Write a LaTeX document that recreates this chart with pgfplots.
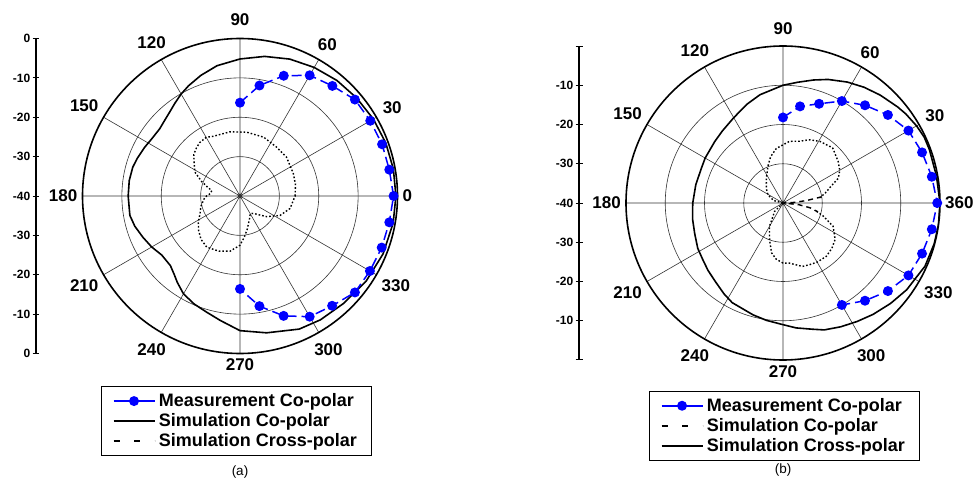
\documentclass[border=0pt]{standalone}
\usepackage{fontspec}
\setmainfont{Liberation Sans}
\usepackage{pgfplots}
\usepgfplotslibrary{polar}
\pgfplotsset{compat=1.18}
\usepackage{pgfplotstable}

% ---------- Panel (a) ----------
\pgfplotstableread{
a db
90 -16.3
80 -11.5
70 -7.5
60 -4.6
50 -3.5
40 -1.9
30 -1.8
20 -1.6
10 -1.5
0 -1.0
-10 -1.5
-20 -1.7
-30 -1.9
-40 -1.9
-50 -3.6
-60 -4.6
-70 -7.6
-80 -11.6
-90 -16.4
}\measA

\pgfplotstableread{
a db
0 -0.4
10 -0.45
20 -0.6
30 -0.9
40 -1.3
50 -1.7
60 -2.3
70 -3.0
80 -4.0
90 -5.2
100 -6.4
108 -7.8
115 -9.1
120 -10.1
125 -11.2
130 -12.2
135 -12.9
140 -13.4
147 -13.3
153 -12.8
160 -12.2
165 -11.8
172 -11.6
180 -11.6
190 -11.6
196 -12.2
203 -13.2
210 -14.1
217 -15.1
225 -15.0
230 -14.0
234 -12.9
240 -11.3
247 -10.2
254 -9.3
261 -8.0
270 -5.8
281 -4.6
294 -3.0
303 -2.5
314 -2.1
326 -1.35
338 -0.8
350 -0.5
360 -0.4
}\simcoA

\pgfplotstableread{
a db
0 -26.0
12 -25.6
23 -25.3
40 -24.6
53 -24.5
68 -23.9
84 -23.7
99 -23.5
114 -23.4
120 -22.8
127 -23.0
132 -23.5
138 -24.2
145 -25.8
152 -27.0
159 -29.5
165 -31.5
169 -32.7
175 -32.5
180 -31.5
185 -30.8
195 -29.7
204 -28.9
212 -27.5
220 -26.3
228 -25.2
237 -24.5
249 -25.0
260 -25.8
270 -27.5
276 -29.5
282 -31.3
292 -33.6
300 -34.8
305 -34.6
312 -33.8
322 -31.5
334 -28.7
346 -26.9
360 -26.0
}\simxA

% ---------- Panel (b) ----------
\pgfplotstableread{
a db
90 -18.2
80 -15.0
70 -13.1
60 -10.0
50 -7.5
40 -5.1
30 -3.1
20 -2.3
10 -1.5
0 -0.7
-10 -1.5
-20 -2.3
-30 -3.1
-40 -5.1
-50 -7.5
-60 -10.0
}\measB

\pgfplotstableread{
a db
0 0
10 -0.3
20 -0.3
25 -0.3
30 -0.7
36 -1.35
40 -1.9
48 -3.0
55 -4.0
62 -5.1
70 -6.5
76 -7.7
83 -9.0
90 -10.0
102 -11.8
110 -13.2
120 -14.9
130 -16.0
138 -16.6
150 -17.1
157 -17.4
168 -17.3
180 -17.0
190 -16.6
199 -16.2
208 -15.4
215 -15.0
222 -14.3
230 -13.5
237 -12.4
243 -11.5
255 -10.5
262 -9.8
270 -9.0
276 -8.0
283 -7.0
288 -6.0
295 -5.2
302 -4.4
309 -3.5
317 -2.5
325 -1.5
330 -1.2
336 -0.4
345 -0.1
352 0
360 0
}\simB

\pgfplotstableread{
a db
8 -30.6
13 -29.0
18 -27.5
24 -24.6
30 -23.3
37 -22.4
48 -21.1
59 -21.7
67 -22.5
75 -23.7
84 -24.2
97 -26.0
105 -27.8
112 -29.8
124 -32.4
140 -34.5
151 -35.6
165 -37.5
180 -40
}\lobeBup

\pgfplotstableread{
a db
200 -40
225 -37
240 -33.1
250 -30.0
257 -27.0
263 -25.6
270 -24.7
276 -24.6
287 -23.1
293 -22.9
300 -22.6
309 -22.5
317 -23.0
325 -23.8
335 -25.9
342 -29.2
347 -31.5
}\lobeBlo

\pgfplotstableread{
a db
9 -30
6 -34
3 -37
0 -40
354 -36
350 -33
346 -31
}\dashB

\pgfplotsset{
  mypolar/.style={
    scale only axis, width=315pt, height=315pt,
    anchor=center,
    xmin=0, xmax=360, ymin=0, ymax=40,
    xtick={0,30,...,330},
    ytick={10,20,30},
    yticklabels={},
    grid=major,
    major grid style={black!80, line width=0.6pt},
    x axis line style={line width=1.6pt},
    y axis line style={draw=none},
    xtick style={draw=none}, ytick style={draw=none},
    xticklabel style={font=\bfseries\fontsize{17}{17}\selectfont, inner sep=5pt},
    legend cell align=left,
    legend image code/.code={\draw[mark repeat=2,mark phase=2,##1] plot coordinates {(0pt,0pt) (20.5pt,0pt) (41pt,0pt)};},
    legend style={draw=black, line width=0.8pt, font=\bfseries\fontsize{18}{21}\selectfont,
      anchor=north, inner xsep=11pt, inner ysep=6pt, row sep=3.5pt,
      nodes={inner xsep=3.5pt, inner ysep=1pt}},
  },
  meas/.style={blue, line width=1.5pt, dash pattern=on 10pt off 5pt, mark=*, mark size=4.2pt, mark options={solid, fill=blue}},
  solidc/.style={black, line width=1.6pt},
  dotc/.style={black, line width=1.4pt, dash pattern=on 1.6pt off 2pt},
  scaleax/.style={
    scale only axis, width=1pt, xmin=0, xmax=1, ymin=-4, ymax=4,
    axis x line=none, axis y line=left,
    axis line style={-, line width=1.3pt},
    every outer y axis line/.append style={-},
    ytick={-4,...,4}, xtick=\empty,
    tick align=center, major tick length=7pt,
    tick style={black, line width=1pt},
    yticklabel style={font=\bfseries\fontsize{12}{12}\selectfont, inner sep=2pt},
  },
}

\begin{document}
\begin{tikzpicture}[x=1pt,y=1pt]
\path[use as bounding box] (0,0) rectangle (978,482);

% left radial scale (a)
\begin{axis}[scaleax, at={(36pt,128.5pt)}, anchor=south west, height=315pt,
  yticklabels={0,-10,-20,-30,-40,-30,-20,-10,0}]
\addplot[draw=none] coordinates {(0,0)};
\end{axis}

% left radial scale (b)
\begin{axis}[scaleax, at={(579pt,122pt)}, anchor=south west, height=314pt,
  yticklabels={,-10,-20,-30,-40,-30,-20,-10,}]
\addplot[draw=none] coordinates {(0,0)};
\end{axis}

% panel (a)
\begin{polaraxis}[mypolar, at={(240pt,286pt)},
  xticklabels={0,30,60,\raisebox{8pt}{90},120,150,180,210,240,\raisebox{-7pt}{270},300,330},
  legend style={at={(0.489,-0.1045)}}]
\addplot[solidc, forget plot] table[x=a, y expr=\thisrow{db}+40] {\simcoA};
\addplot[dotc, forget plot] table[x=a, y expr=\thisrow{db}+40] {\simxA};
\addplot[meas, forget plot] table[x=a, y expr=\thisrow{db}+40] {\measA};
\addlegendimage{blue, line width=1.5pt, mark=*, mark size=4.2pt, mark options={fill=blue}}
\addlegendentry{Measurement Co-polar}
\addlegendimage{black, line width=1.6pt}
\addlegendentry{Simulation Co-polar}
\addlegendimage{black, line width=1.5pt, dash pattern=on 6pt off 14.5pt}
\addlegendentry{Simulation Cross-polar}
\end{polaraxis}

% panel (b)
\begin{polaraxis}[mypolar, at={(783pt,279pt)}, width=314pt, height=314pt,
  xticklabels={360,30,60,\raisebox{6pt}{90},120,150,180,210,240,\raisebox{-6pt}{270},300,330},
  legend style={at={(0.505,-0.099)}}]
\addplot[solidc, forget plot] table[x=a, y expr=\thisrow{db}+40] {\simB};
\addplot[dotc, forget plot] table[x=a, y expr=\thisrow{db}+40] {\lobeBup};
\addplot[dotc, forget plot] table[x=a, y expr=\thisrow{db}+40] {\lobeBlo};
\addplot[black, line width=1.4pt, dash pattern=on 5pt off 4pt, forget plot] table[x=a, y expr=\thisrow{db}+40] {\dashB};
\addplot[meas, forget plot] table[x=a, y expr=\thisrow{db}+40] {\measB};
\addlegendimage{blue, line width=1.5pt, mark=*, mark size=4.2pt, mark options={fill=blue}}
\addlegendentry{Measurement Co-polar}
\addlegendimage{black, line width=1.5pt, dash pattern=on 6pt off 14.5pt}
\addlegendentry{Simulation Co-polar}
\addlegendimage{black, line width=1.6pt}
\addlegendentry{Simulation Cross-polar}
\end{polaraxis}

\node[font=\fontsize{13.5}{13.5}\selectfont] at (240,10) {(a)};
\node[font=\fontsize{13.5}{13.5}\selectfont] at (783,12) {(b)};
\end{tikzpicture}
\end{document}
